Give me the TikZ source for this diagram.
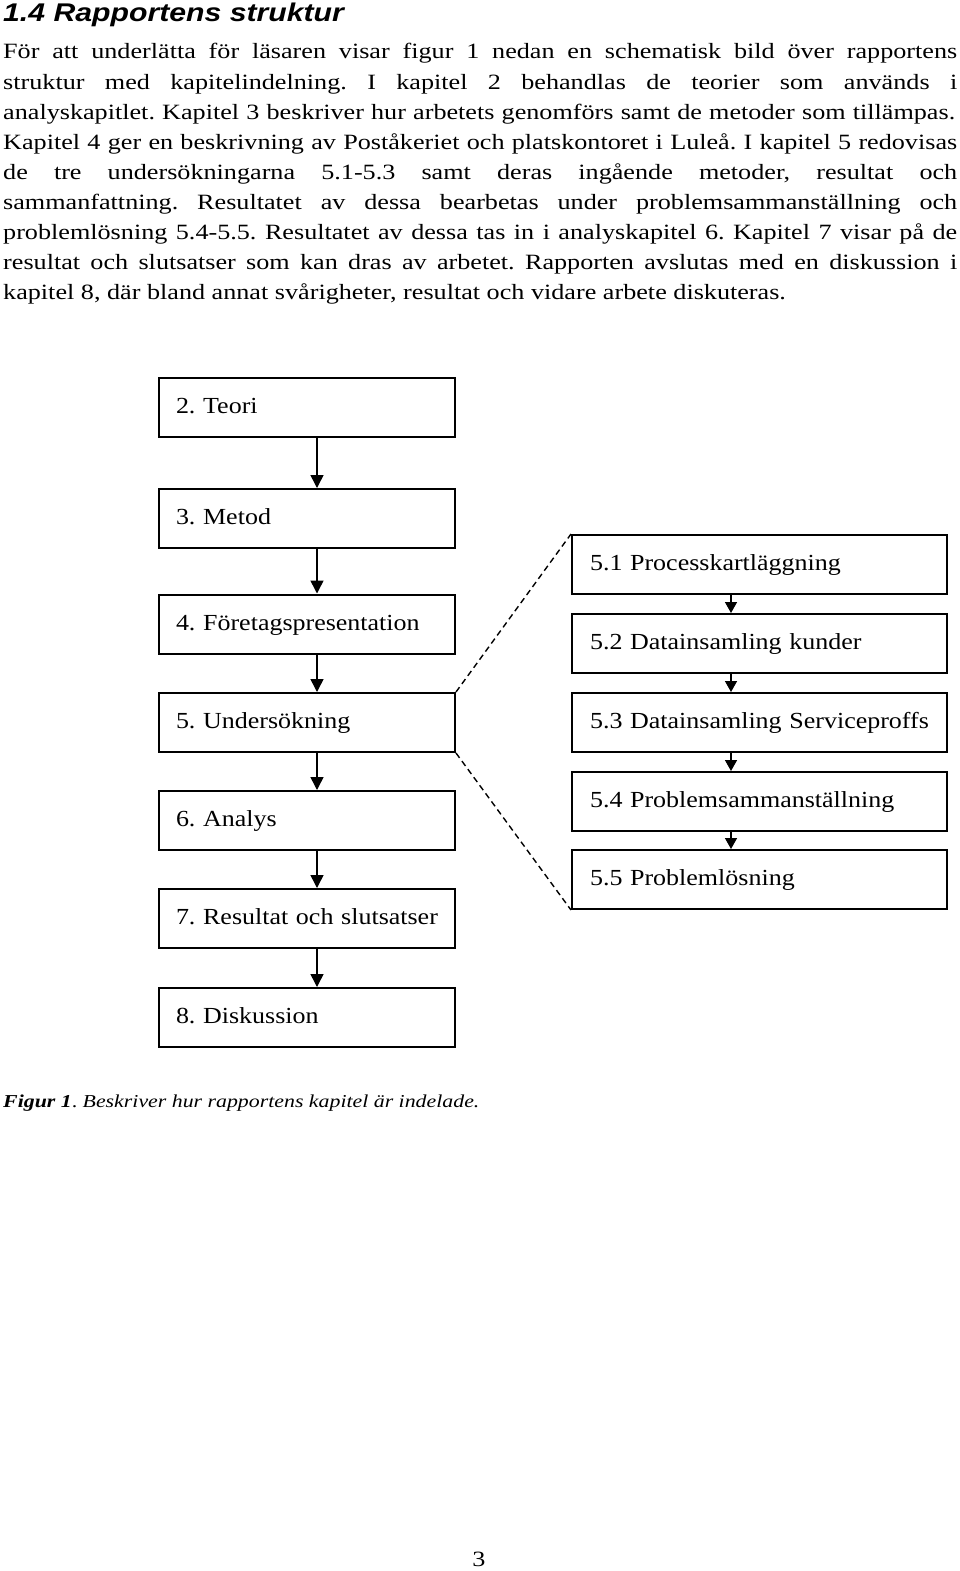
\documentclass[tikz,border=0pt]{standalone}
\usepackage{fontspec}
\setmainfont{Liberation Serif}[FakeStretch=1.2]
\newfontfamily\headfont{Liberation Sans}[FakeStretch=1.18]
\newfontfamily\boxfont{Liberation Serif}[FakeStretch=1.13]
\usetikzlibrary{arrows.meta}
\frenchspacing
\hyphenpenalty=10000
\begin{document}
\frenchspacing
\begin{tikzpicture}[x=1pt,y=-1pt,
  bodyline/.style={anchor=base west, inner sep=0pt, font=\fontsize{21.8}{26}\selectfont},
  chap/.style={draw, line width=2pt, inner xsep=17pt, inner ysep=0pt, text width=262pt,
    minimum height=59pt, align=left, text height=21pt, text depth=9pt,
    font=\boxfont\fontsize{23}{26}\selectfont},
  sub/.style={chap, inner xsep=18pt, text width=339pt},
  arr/.style={line width=1.5pt, -{Triangle[width=13pt,length=13pt]}},
  arrs/.style={line width=1.5pt, -{Triangle[width=12pt,length=11pt]}},
  dashline/.style={line width=1.4pt, dash pattern=on 6pt off 4pt}]
\fill[white] (0,0) rectangle (960,1571);
\useasboundingbox (0,0) rectangle (960,1571);

\node[anchor=base west, inner sep=0pt, font=\headfont\bfseries\itshape\fontsize{25.6}{30}\selectfont] (h) at (3,21.7) {1.4 Rapportens struktur};

\node[bodyline] (t1) at (3,59) {\makebox[954pt][s]{För att underlätta för läsaren visar figur 1 nedan en schematisk bild över rapportens}};
\node[bodyline] (t2) at (3,89.1) {\makebox[954pt][s]{struktur med kapitelindelning. I kapitel 2 behandlas de teorier som används i}};
\node[bodyline] (t3) at (3,119.2) {\makebox[952pt][s]{analyskapitlet. Kapitel 3 beskriver hur arbetets genomförs samt de metoder som tillämpas.}};
\node[bodyline] (t4) at (3,149.3) {\makebox[954pt][s]{Kapitel 4 ger en beskrivning av Poståkeriet och platskontoret i Luleå. I kapitel 5 redovisas}};
\node[bodyline] (t5) at (3,179.4) {\makebox[954pt][s]{de tre undersökningarna 5.1-5.3 samt deras ingående metoder, resultat och}};
\node[bodyline] (t6) at (3,209.5) {\makebox[954pt][s]{sammanfattning. Resultatet av dessa bearbetas under problemsammanställning och}};
\node[bodyline] (t7) at (3,239.6) {\makebox[954pt][s]{problemlösning 5.4-5.5. Resultatet av dessa tas in i analyskapitel 6. Kapitel 7 visar på de}};
\node[bodyline] (t8) at (3,269.7) {\makebox[954pt][s]{resultat och slutsatser som kan dras av arbetet. Rapporten avslutas med en diskussion i}};
\node[bodyline] (t9) at (3,299.8) {kapitel 8, där bland annat svårigheter, resultat och vidare arbete diskuteras.};

\node[chap] (b2) at (307,407) {2. Teori};
\node[chap] (b3) at (307,518.5) {3. Metod};
\node[chap] (b4) at (307,624) {4. Företagspresentation};
\node[chap] (b5) at (307,722.5) {5. Undersökning};
\node[chap] (b6) at (307,820.5) {6. Analys};
\node[chap] (b7) at (307,918.5) {7. Resultat och slutsatser};
\node[chap] (b8) at (307,1017.5) {8. Diskussion};

\node[sub] (s1) at (759.5,564.5) {5.1 Processkartläggning};
\node[sub] (s2) at (759.5,643.5) {5.2 Datainsamling kunder};
\node[sub] (s3) at (759.5,722.5) {5.3 Datainsamling Serviceproffs};
\node[sub] (s4) at (759.5,801.5) {5.4 Problemsammanställning};
\node[sub] (s5) at (759.5,879.5) {5.5 Problemlösning};

\coordinate (ax) at (317,0);
\coordinate (bx) at (731,0);
\draw[arr] (b2.south -| ax) -- (b3.north -| ax);
\draw[arr] (b3.south -| ax) -- (b4.north -| ax);
\draw[arr] (b4.south -| ax) -- (b5.north -| ax);
\draw[arr] (b5.south -| ax) -- (b6.north -| ax);
\draw[arr] (b6.south -| ax) -- (b7.north -| ax);
\draw[arr] (b7.south -| ax) -- (b8.north -| ax);

\draw[arrs] (s1.south -| bx) -- (s2.north -| bx);
\draw[arrs] (s2.south -| bx) -- (s3.north -| bx);
\draw[arrs] (s3.south -| bx) -- (s4.north -| bx);
\draw[arrs] (s4.south -| bx) -- (s5.north -| bx);

\draw[dashline] (b5.north east) -- (s1.north west);
\draw[dashline] (b5.south east) -- (s5.south west);

\node[anchor=base west, inner sep=0pt, font=\fontsize{18.2}{22}\selectfont] (cap) at (3,1107) {\textbf{\textit{Figur 1}}. \textit{Beskriver hur rapportens kapitel är indelade.}};

\node[anchor=base, inner sep=0pt, font=\fontsize{21.8}{26}\selectfont] (pg) at (479,1566) {3};
\end{tikzpicture}
\end{document}
